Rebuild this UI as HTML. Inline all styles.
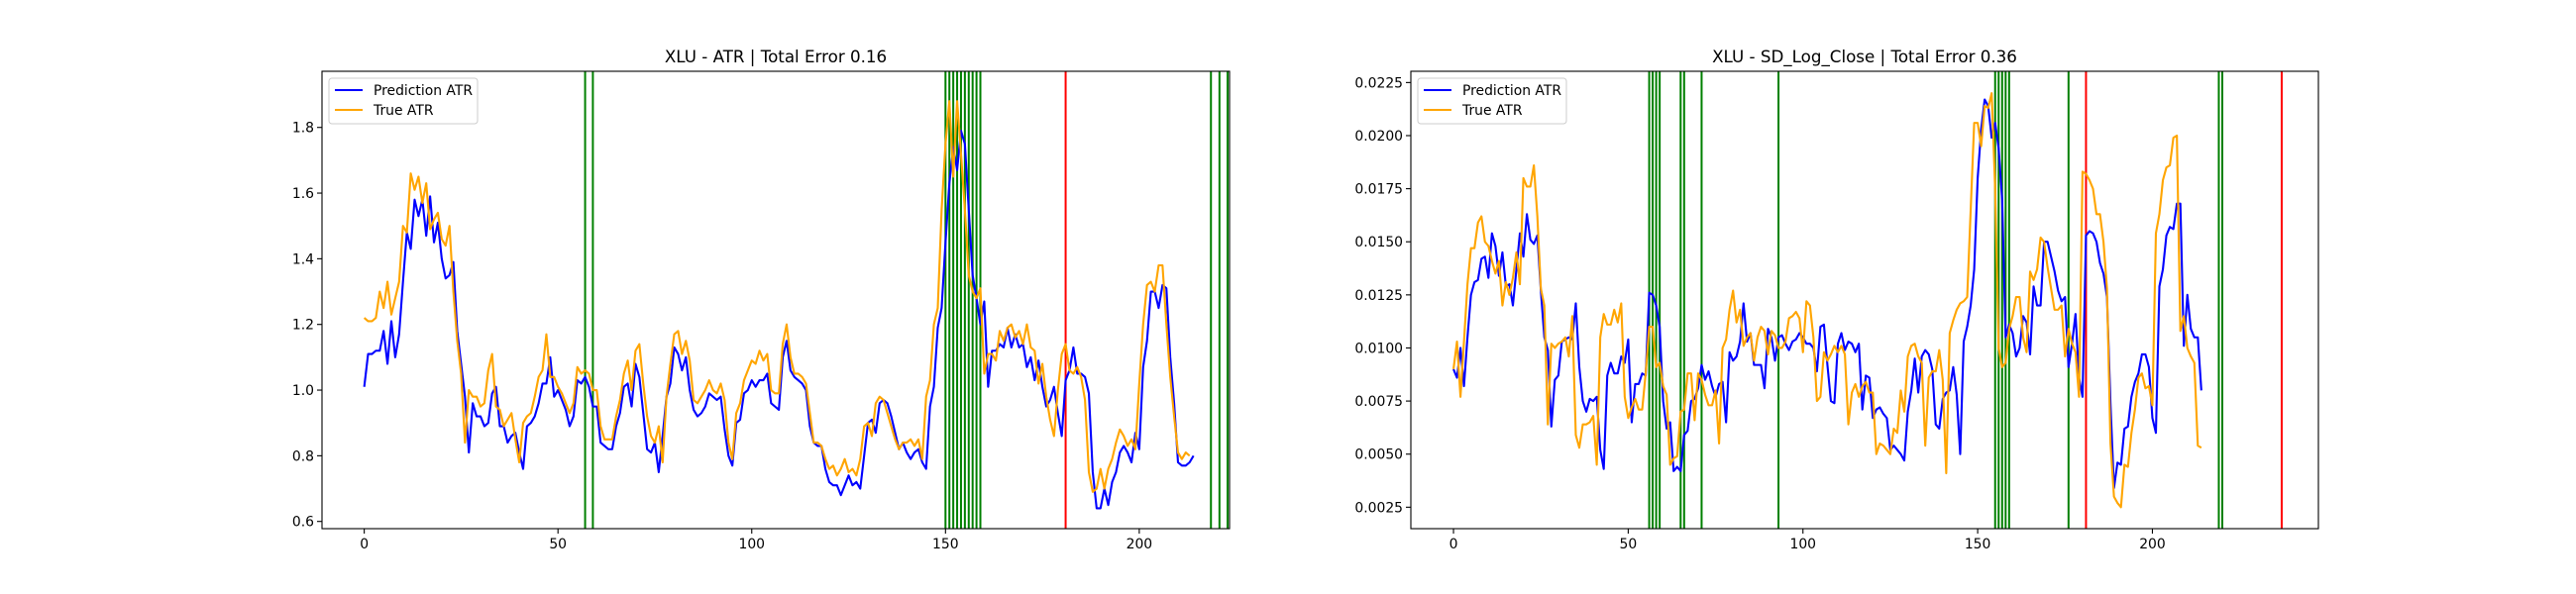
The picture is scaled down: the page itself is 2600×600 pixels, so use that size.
<!DOCTYPE html>
<html><head><meta charset="utf-8"><style>
html,body{margin:0;padding:0;background:#fff;}
svg{display:block;font-family:"DejaVu Sans","Liberation Sans",sans-serif;}
</style></head>
<body>
<svg id="fig" width="2600" height="600" viewBox="0 0 2600 600" xmlns="http://www.w3.org/2000/svg"></svg>
<script>
// ---------- data: left chart (ATR) ----------
const leftPred = [1.01,1.11,1.11,1.12,1.12,1.18,1.08,1.21,1.10,1.17,1.33,1.48,1.43,1.58,1.53,1.58,1.47,1.59,1.45,1.51,1.40,1.34,1.35,1.39,1.18,1.08,0.98,0.81,0.96,0.92,0.92,0.89,0.90,0.99,1.01,0.89,0.89,0.84,0.86,0.87,0.81,0.76,0.89,0.90,0.92,0.96,1.02,1.02,1.10,0.98,1.00,0.97,0.94,0.89,0.92,1.03,1.02,1.04,1.01,0.95,0.95,0.84,0.83,0.82,0.82,0.89,0.93,1.01,1.02,0.95,1.08,1.04,0.93,0.82,0.81,0.84,0.75,0.86,0.98,1.02,1.13,1.11,1.06,1.10,1.00,0.94,0.92,0.93,0.95,0.99,0.98,0.97,0.98,0.88,0.80,0.77,0.90,0.91,0.99,1.00,1.03,1.01,1.03,1.03,1.05,0.96,0.95,0.94,1.10,1.15,1.06,1.04,1.03,1.02,1.00,0.89,0.84,0.83,0.83,0.76,0.72,0.71,0.71,0.68,0.71,0.74,0.71,0.72,0.70,0.80,0.90,0.91,0.87,0.96,0.97,0.96,0.92,0.87,0.82,0.84,0.81,0.79,0.81,0.82,0.78,0.76,0.95,1.01,1.19,1.25,1.45,1.63,1.74,1.67,1.79,1.75,1.55,1.35,1.28,1.20,1.27,1.01,1.12,1.12,1.14,1.13,1.19,1.13,1.17,1.13,1.14,1.07,1.10,1.03,1.09,1.01,0.95,0.97,1.01,0.93,0.86,1.03,1.06,1.13,1.05,1.05,1.04,0.99,0.75,0.64,0.64,0.70,0.65,0.72,0.75,0.81,0.83,0.81,0.78,0.87,0.82,1.07,1.15,1.30,1.30,1.25,1.32,1.31,1.10,0.96,0.78,0.77,0.77,0.78,0.80];
const leftTrue = [1.22,1.21,1.21,1.22,1.30,1.25,1.33,1.23,1.28,1.33,1.50,1.48,1.66,1.61,1.65,1.57,1.63,1.49,1.52,1.54,1.46,1.44,1.50,1.30,1.15,1.05,0.84,1.00,0.98,0.98,0.95,0.96,1.06,1.11,0.95,0.94,0.89,0.91,0.93,0.85,0.78,0.90,0.92,0.93,0.98,1.04,1.06,1.17,1.04,1.04,1.01,0.99,0.96,0.93,0.96,1.07,1.05,1.06,1.05,1.00,1.00,0.89,0.85,0.85,0.85,0.92,0.97,1.05,1.09,1.00,1.12,1.14,1.02,0.92,0.86,0.84,0.89,0.78,0.98,1.08,1.17,1.18,1.11,1.15,1.09,0.97,0.96,0.98,1.00,1.03,1.00,0.99,1.02,0.97,0.84,0.79,0.93,0.96,1.03,1.06,1.09,1.08,1.12,1.09,1.11,1.00,0.99,0.99,1.14,1.20,1.10,1.05,1.05,1.04,1.02,0.93,0.84,0.84,0.83,0.79,0.76,0.77,0.74,0.76,0.79,0.75,0.76,0.74,0.79,0.89,0.90,0.86,0.96,0.98,0.97,0.93,0.89,0.85,0.82,0.84,0.84,0.85,0.83,0.85,0.79,0.98,1.03,1.20,1.25,1.55,1.75,1.88,1.65,1.88,1.72,1.55,1.35,1.30,1.28,1.31,1.05,1.11,1.11,1.09,1.18,1.15,1.19,1.20,1.16,1.18,1.14,1.20,1.13,1.12,1.02,1.08,0.98,0.91,0.86,1.00,1.11,1.14,1.06,1.05,1.07,1.04,0.97,0.75,0.69,0.70,0.76,0.70,0.76,0.79,0.84,0.88,0.86,0.83,0.85,0.82,1.02,1.20,1.32,1.33,1.30,1.38,1.38,1.20,1.04,0.92,0.81,0.79,0.81,0.80];
const leftGreen = [57,59,150,151,152,153,154,155,156,157,158,159,218.5,220.7,222.8];
const leftRed = [181];
const leftYTicks = [0.6,0.8,1.0,1.2,1.4,1.6,1.8];
const leftYLabels = ["0.6","0.8","1.0","1.2","1.4","1.6","1.8"];
const xTicks = [0,50,100,150,200];
const xTickLabels = ["0","50","100","150","200"];

// ---------- data: right chart (SD_Log_Close) ----------
const rightPred = [.0090,.0086,.0100,.0082,.0105,.0125,.0131,.0132,.0142,.0143,.0133,.0154,.0148,.0134,.0145,.0129,.0130,.0120,.0137,.0154,.0143,.0163,.0151,.0149,.0153,.0127,.0105,.0099,.0063,.0085,.0087,.0103,.0104,.0105,.0104,.0121,.0091,.0075,.0070,.0076,.0075,.0077,.0052,.0043,.0087,.0093,.0088,.0088,.0096,.0093,.0104,.0065,.0083,.0083,.0088,.0087,.0126,.0125,.0120,.0110,.0075,.0062,.0065,.0042,.0044,.0042,.0059,.0061,.0075,.0076,.0081,.0092,.0085,.0089,.0082,.0077,.0083,.0084,.0065,.0098,.0094,.0096,.0103,.0121,.0103,.0107,.0092,.0092,.0092,.0081,.0109,.0105,.0094,.0105,.0106,.0102,.0099,.0103,.0104,.0107,.0105,.0102,.0102,.0100,.0089,.0110,.0111,.0092,.0075,.0074,.0102,.0107,.0099,.0103,.0102,.0098,.0102,.0071,.0087,.0086,.0067,.0071,.0072,.0069,.0067,.0052,.0054,.0052,.0050,.0047,.0070,.0080,.0095,.0079,.0096,.0099,.0097,.0090,.0064,.0062,.0076,.0079,.0080,.0091,.0078,.0050,.0103,.0110,.0120,.0137,.0180,.0203,.0217,.0214,.0199,.0206,.0194,.0170,.0105,.0111,.0107,.0096,.0100,.0115,.0112,.0097,.0129,.0120,.0120,.0150,.0150,.0143,.0136,.0127,.0122,.0124,.0091,.0102,.0116,.0086,.0077,.0153,.0155,.0154,.0150,.0140,.0135,.0124,.0074,.0034,.0046,.0045,.0062,.0063,.0077,.0084,.0088,.0097,.0097,.0091,.0067,.0060,.0129,.0137,.0153,.0157,.0156,.0168,.0168,.0101,.0125,.0109,.0105,.0105,.0080];
const rightTrue = [.0090,.0103,.0077,.0103,.0130,.0147,.0147,.0159,.0162,.0150,.0148,.0141,.0135,.0141,.0120,.0131,.0125,.0133,.0145,.0130,.0180,.0176,.0176,.0186,.0162,.0128,.0120,.0064,.0102,.0100,.0102,.0103,.0105,.0096,.0115,.0059,.0053,.0064,.0064,.0065,.0068,.0045,.0105,.0116,.0111,.0111,.0118,.0112,.0121,.0077,.0067,.0072,.0076,.0071,.0071,.0088,.0110,.0110,.0091,.0093,.0082,.0078,.0045,.0048,.0049,.0070,.0071,.0088,.0088,.0066,.0088,.0085,.0078,.0073,.0073,.0080,.0055,.0100,.0104,.0118,.0127,.0112,.0118,.0101,.0105,.0107,.0094,.0105,.0110,.0108,.0097,.0108,.0106,.0100,.0100,.0103,.0114,.0115,.0117,.0114,.0098,.0122,.0120,.0105,.0075,.0077,.0098,.0094,.0097,.0101,.0098,.0101,.0097,.0064,.0079,.0083,.0077,.0082,.0084,.0079,.0079,.0050,.0055,.0054,.0052,.0050,.0062,.0060,.0080,.0070,.0096,.0101,.0102,.0096,.0093,.0054,.0086,.0089,.0089,.0099,.0085,.0041,.0107,.0113,.0118,.0121,.0122,.0124,.0165,.0206,.0206,.0195,.0214,.0213,.0220,.0175,.0100,.0091,.0093,.0109,.0115,.0124,.0124,.0105,.0098,.0136,.0132,.0137,.0152,.0150,.0138,.0128,.0118,.0118,.0120,.0096,.0109,.0102,.0098,.0077,.0183,.0182,.0179,.0175,.0163,.0163,.0150,.0128,.0055,.0030,.0027,.0025,.0045,.0044,.0060,.0071,.0086,.0088,.0081,.0082,.0073,.0154,.0163,.0179,.0185,.0186,.0199,.0200,.0108,.0115,.0100,.0096,.0093,.0054,.0053];
const rightGreen = [56,57,58,59,65,66,71,93,155,156,157,158,159,176,219,220];
const rightRed = [181,237];
const rightYTicks = [0.0025,0.005,0.0075,0.01,0.0125,0.015,0.0175,0.02,0.0225];
const rightYLabels = ["0.0025","0.0050","0.0075","0.0100","0.0125","0.0150","0.0175","0.0200","0.0225"];

const NS = "http://www.w3.org/2000/svg";
const fig = document.getElementById('fig');
function mk(tag, attrs, parent){
  const e = document.createElementNS(NS, tag);
  for (const k in attrs) e.setAttribute(k, attrs[k]);
  (parent||fig).appendChild(e);
  return e;
}

function drawChart(cfg){
  const g = mk('g', {});
  
  
  const L = cfg.left, R = cfg.right, T = 72, B = 534;
  const sx = v => L + (v - cfg.xmin) / (cfg.xmax - cfg.xmin) * (R - L);
  const sy = v => B - (v - cfg.ymin) / (cfg.ymax - cfg.ymin) * (B - T);

  const clipId = cfg.name + '-clip';
  const cp = mk('clipPath', {id: clipId}, g);
  mk('rect', {x: L, y: T, width: R - L, height: B - T}, cp);

  const t = mk('text', {x: (L + R) / 2, y: 63, 'text-anchor': 'middle', 'font-size': '16.7px', fill: '#000'}, g);
  t.textContent = cfg.title;
  
  

  const plot = mk('g', {'clip-path': 'url(#' + clipId + ')'}, g);
  cfg.green.forEach(v => {
    const l = mk('line', {x1: sx(v), x2: sx(v), y1: T, y2: B, stroke: '#008000', 'stroke-width': 2}, plot);
    
    
  });
  cfg.red.forEach(v => {
    const l = mk('line', {x1: sx(v), x2: sx(v), y1: T, y2: B, stroke: '#ff0000', 'stroke-width': 2}, plot);
    
    
  });
  const pts = arr => arr.map((v, i) => sx(i).toFixed(2) + ',' + sy(v).toFixed(2)).join(' ');
  const pl = mk('polyline', {points: pts(cfg.pred), fill: 'none', stroke: '#0000ff', 'stroke-width': 2.1, 'stroke-linejoin': 'round'}, plot);
  
  
  const tl = mk('polyline', {points: pts(cfg.tru), fill: 'none', stroke: '#ffa500', 'stroke-width': 2.1, 'stroke-linejoin': 'round'}, plot);
  
  

  const frame = mk('rect', {x: L, y: T, width: R - L, height: B - T, fill: 'none', stroke: '#000', 'stroke-width': 1.1}, g);
  
  

  xTicks.forEach((v, i) => {
    const x = sx(v);
    mk('line', {x1: x, x2: x, y1: B, y2: B + 5, stroke: '#000', 'stroke-width': 1.1}, g);
    const tx = mk('text', {x: x, y: B + 20, 'text-anchor': 'middle', 'font-size': '13.9px', fill: '#000'}, g);
    tx.textContent = xTickLabels[i];
    
    
  });
  cfg.yTicks.forEach((v, i) => {
    const y = sy(v);
    mk('line', {x1: L - 5, x2: L, y1: y, y2: y, stroke: '#000', 'stroke-width': 1.1}, g);
    const ty = mk('text', {x: L - 8, y: y + 5, 'text-anchor': 'end', 'font-size': '13.9px', fill: '#000'}, g);
    ty.textContent = cfg.yLabels[i];
    
    
  });

  const lg = mk('g', {}, g);
  
  
  const lx = L + 7;
  mk('rect', {x: lx, y: 79, width: cfg.legendW, height: 46, rx: 3, fill: '#fff', 'fill-opacity': 0.8, stroke: '#cccccc', 'stroke-width': 1}, lg);
  [['Prediction ATR', '#0000ff', 91], ['True ATR', '#ffa500', 111]].forEach(e => {
    mk('line', {x1: lx + 6, x2: lx + 34, y1: e[2], y2: e[2], stroke: e[1], 'stroke-width': 2.1}, lg);
    const tt = mk('text', {x: lx + 45, y: e[2] + 5, 'font-size': '13.9px', fill: '#000'}, lg);
    tt.textContent = e[0];
    
    
  });
}

drawChart({name: 'atr-chart', title: 'XLU - ATR | Total Error 0.16', left: 325, right: 1241,
  xmin: -10.9, xmax: 223.3, ymin: 0.578, ymax: 1.971,
  pred: leftPred, tru: leftTrue, green: leftGreen, red: leftRed,
  yTicks: leftYTicks, yLabels: leftYLabels, legendW: 150});
drawChart({name: 'sd-log-close-chart', title: 'XLU - SD_Log_Close | Total Error 0.36', left: 1424, right: 2340,
  xmin: -12.2, xmax: 247.5, ymin: 0.00149, ymax: 0.02303,
  pred: rightPred, tru: rightTrue, green: rightGreen, red: rightRed,
  yTicks: rightYTicks, yLabels: rightYLabels, legendW: 150});
</script>
</body></html>
